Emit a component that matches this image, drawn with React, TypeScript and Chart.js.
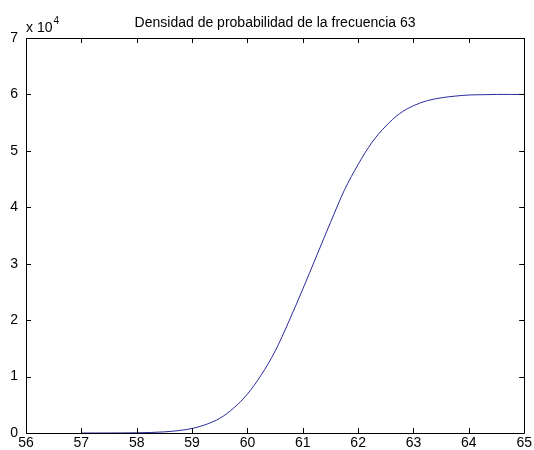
import React, { useEffect, useRef } from "react";
import { Chart, registerables } from "chart.js";

Chart.register(...registerables);

const TITLE = "Densidad de probabilidad de la frecuencia 63";
const FREQUENCIES = [
  57, 57.25, 57.5, 57.75, 58, 58.25, 58.5, 58.75, 59, 59.25, 59.5, 59.75, 60,
  60.25, 60.5, 60.75, 61, 61.25, 61.5, 61.75, 62, 62.25, 62.5, 62.75, 63,
  63.25, 63.5, 63.75, 64, 64.25, 64.5, 64.75, 65,
];
const DENSITY = [
  0, 2, 6, 15, 40, 90, 200, 420, 800, 1500, 2600, 4400, 6900, 10300, 14500,
  19800, 25500, 31400, 37300, 43000, 47600, 51500, 54400, 56600, 58000, 58900,
  59400, 59700, 59900, 59950, 60000, 60000, 60000,
];
const X_TICKS = [56, 57, 58, 59, 60, 61, 62, 63, 64, 65];
const Y_TICKS = [0, 10000, 20000, 30000, 40000, 50000, 60000, 70000];
const Y_EXPONENT = "4";

const FONT = "'Liberation Sans', Arial, Helvetica, sans-serif";

const boxPlugin = {
  id: "matlabBox",
  afterDraw(chart: any) {
    const { ctx, chartArea, scales } = chart;
    const { left, right, top, bottom } = chartArea;
    const xs = scales.x;
    const ys = scales.y;
    const tl = 5;
    ctx.save();
    ctx.strokeStyle = "#000";
    ctx.lineWidth = 1;
    ctx.beginPath();
    ctx.rect(Math.round(left) + 0.5, Math.round(top) + 0.5, Math.round(right - left), Math.round(bottom - top));
    for (const v of X_TICKS) {
      const px = Math.round(xs.getPixelForValue(v)) + 0.5;
      ctx.moveTo(px, bottom);
      ctx.lineTo(px, bottom - tl);
      ctx.moveTo(px, top);
      ctx.lineTo(px, top + tl);
    }
    for (const v of Y_TICKS) {
      const py = Math.round(ys.getPixelForValue(v)) + 0.5;
      ctx.moveTo(left, py);
      ctx.lineTo(left + tl, py);
      ctx.moveTo(right, py);
      ctx.lineTo(right - tl, py);
    }
    ctx.stroke();

    // title
    ctx.fillStyle = "#000";
    ctx.font = `14px ${FONT}`;
    ctx.textAlign = "center";
    ctx.textBaseline = "alphabetic";
    ctx.fillText(TITLE, (left + right) / 2, 27);

    // exponent label
    ctx.textAlign = "left";
    ctx.font = `14px ${FONT}`;
    ctx.fillText("x 10", left, 32);
    const w = ctx.measureText("x 10").width;
    ctx.font = `10px ${FONT}`;
    ctx.fillText(Y_EXPONENT, left + w + 1, 24);
    ctx.restore();
  },
};

export default function App() {
  const ref = useRef<HTMLCanvasElement | null>(null);

  useEffect(() => {
    document.body.style.margin = "0";
    document.body.style.background = "#fff";
    const canvas = ref.current;
    if (!canvas) return;
    const chart = new Chart(canvas, {
      type: "line",
      data: {
        datasets: [
          {
            data: FREQUENCIES.map((f, i) => ({ x: f, y: DENSITY[i] })),
            borderColor: "#2a2a9c",
            borderWidth: 1,
            pointRadius: 0,
            fill: false,
            cubicInterpolationMode: "monotone",
          },
        ],
      },
      options: {
        responsive: false,
        animation: false,
        events: [],
        layout: { padding: { top: 38, right: 7, left: 0, bottom: 0 } },
        plugins: {
          legend: { display: false },
          tooltip: { enabled: false },
          title: { display: false },
        },
        scales: {
          x: {
            type: "linear",
            min: 56,
            max: 65,
            afterBuildTicks: (s: any) => {
              s.ticks = X_TICKS.map((v) => ({ value: v }));
            },
            afterFit: (s: any) => {
              s.height = 17;
            },
            grid: { display: false, drawTicks: false },
            border: { display: false },
            ticks: {
              color: "#000",
              padding: 2,
              maxRotation: 0,
              autoSkip: false,
              font: { family: FONT, size: 14 },
              callback: (v: any) => String(v),
            },
          },
          y: {
            type: "linear",
            min: 0,
            max: 70000,
            afterBuildTicks: (s: any) => {
              s.ticks = Y_TICKS.map((v) => ({ value: v }));
            },
            afterFit: (s: any) => {
              s.width = 26;
            },
            grid: { display: false, drawTicks: false },
            border: { display: false },
            ticks: {
              color: "#000",
              padding: 8,
              autoSkip: false,
              font: { family: FONT, size: 14 },
              callback: (v: any) => String(Number(v) / 10000),
            },
          },
        },
      },
      plugins: [boxPlugin],
    } as any);
    return () => chart.destroy();
  }, []);

  return (
    <div style={{ position: "absolute", left: 0, top: 0, width: 534, height: 450, background: "#fff" }}>
      <canvas ref={ref} width={534} height={450} style={{ display: "block" }} />
    </div>
  );
}
